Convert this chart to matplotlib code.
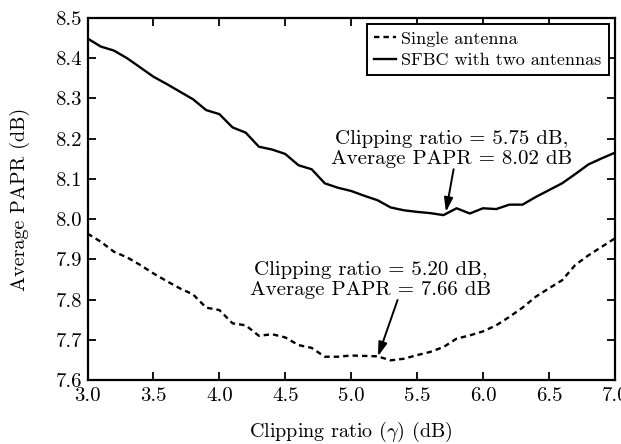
import matplotlib
matplotlib.use("Agg")
import matplotlib.pyplot as plt
import numpy as np

plt.rcParams['font.family'] = ['cmr10', 'DejaVu Serif']
plt.rcParams['mathtext.fontset'] = 'cm'
plt.rcParams['axes.formatter.use_mathtext'] = True

clip_ratio = [3.0, 3.1, 3.2, 3.3, 3.4, 3.5, 3.6, 3.7, 3.8, 3.9,
              4.0, 4.1, 4.2, 4.3, 4.4, 4.5, 4.6, 4.7, 4.8, 4.9,
              5.0, 5.1, 5.2, 5.3, 5.4, 5.5, 5.6, 5.7, 5.8, 5.9,
              6.0, 6.1, 6.2, 6.3, 6.4, 6.5, 6.6, 6.7, 6.8, 6.9, 7.0]

single_antenna = [7.964, 7.944, 7.919, 7.905, 7.886, 7.865, 7.846, 7.828, 7.813, 7.780,
                  7.774, 7.741, 7.736, 7.710, 7.714, 7.706, 7.687, 7.680, 7.658, 7.658,
                  7.661, 7.660, 7.659, 7.649, 7.653, 7.662, 7.670, 7.682, 7.703, 7.711,
                  7.721, 7.736, 7.757, 7.780, 7.807, 7.828, 7.848, 7.886, 7.910, 7.931, 7.952]

sfbc_two = [8.449, 8.429, 8.419, 8.400, 8.377, 8.354, 8.336, 8.317, 8.298, 8.271,
            8.261, 8.228, 8.215, 8.180, 8.173, 8.162, 8.134, 8.124, 8.089, 8.078,
            8.070, 8.058, 8.047, 8.029, 8.022, 8.018, 8.015, 8.010, 8.027, 8.014,
            8.027, 8.025, 8.036, 8.036, 8.055, 8.072, 8.089, 8.112, 8.136, 8.151, 8.165]

x_ticks = [3.0, 3.5, 4.0, 4.5, 5.0, 5.5, 6.0, 6.5, 7.0]
y_ticks = [7.6, 7.7, 7.8, 7.9, 8.0, 8.1, 8.2, 8.3, 8.4, 8.5]

annot_text = ['Clipping ratio = 5.75 dB,\nAverage PAPR = 8.02 dB',
              'Clipping ratio = 5.20 dB,\nAverage PAPR = 7.66 dB']
annot_text_pos = [(5.765, 8.175), (5.146, 7.849)]
annot_arrow_tail = [(5.777, 8.124), (5.352, 7.799)]
annot_arrow_head = [(5.719, 8.018), (5.203, 7.659)]

fig = plt.figure(figsize=(6.21, 4.44), dpi=100)
ax = fig.add_axes([0.141, 0.144, 0.849, 0.8155])

ax.plot(clip_ratio, single_antenna, color='black', lw=1.7, linestyle=(0, (2.3, 1.7)),
        label='Single antenna')
ax.plot(clip_ratio, sfbc_two, color='black', lw=1.7, label='SFBC with two antennas')

ax.set_xlim(3.0, 7.0)
ax.set_ylim(7.6, 8.5)
ax.set_xticks(x_ticks)
ax.set_yticks(y_ticks)
ax.set_xticklabels([f"{v:.1f}" for v in x_ticks])
ax.set_yticklabels([f"{v:.1f}" for v in y_ticks])
ax.tick_params(axis='both', direction='in', top=True, right=True, length=6, width=1.3,
               labelsize=15)
ax.tick_params(axis='x', pad=5)
ax.tick_params(axis='y', pad=4)
for s in ax.spines.values():
    s.set_linewidth(1.6)

ax.set_xlabel(r'Clipping ratio $(\gamma)$ (dB)', fontsize=14.5, labelpad=11)
ax.set_ylabel('Average PAPR (dB)', fontsize=14.5, labelpad=18)

leg = ax.legend(loc='upper right', fontsize=13, handlelength=1.2, handletextpad=0.3,
                borderpad=0.4, labelspacing=0.3, fancybox=False, framealpha=1,
                edgecolor='black', borderaxespad=0.33)
leg.get_frame().set_linewidth(1.4)

for txt, pos in zip(annot_text, annot_text_pos):
    ax.text(pos[0], pos[1], txt, ha='center', va='center', fontsize=15, linespacing=1.12)
for tail, head in zip(annot_arrow_tail, annot_arrow_head):
    ax.annotate('', xy=head, xytext=tail, textcoords='data',
                arrowprops=dict(arrowstyle='-|>,head_length=0.7,head_width=0.22',
                                color='black', lw=1.4, mutation_scale=12,
                                shrinkA=0, shrinkB=0))

fig.savefig('out.png', dpi=100)
